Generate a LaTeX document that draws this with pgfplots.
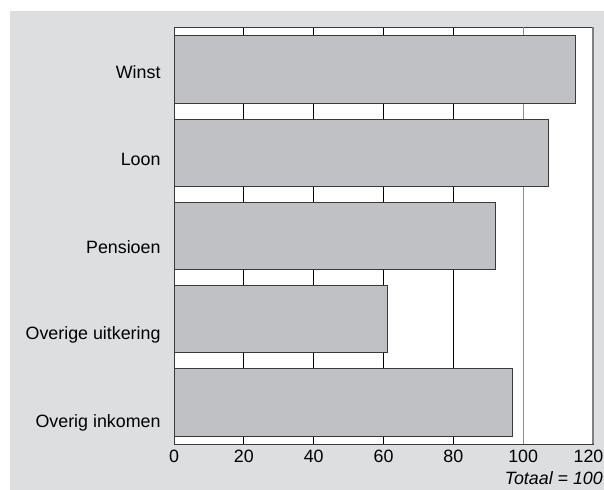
\documentclass[border=0pt]{standalone}
\usepackage{fontspec}
\setmainfont{Liberation Sans}
\usepackage{pgfplots}
\pgfplotsset{compat=1.18}
\definecolor{panel}{HTML}{DDDEE0}
\definecolor{barfill}{HTML}{C0C1C4}
\definecolor{baredge}{HTML}{3A3A3A}

\begin{document}
\begin{tikzpicture}
\path[use as bounding box] (0,0) rectangle (604bp,490bp);
\fill[panel] (10bp,0) rectangle (604bp,479bp);
\begin{axis}[
    at={(174bp,46bp)}, anchor=south west,
    scale only axis,
    width=419bp, height=417bp,
    xmin=0, xmax=120,
    ymin=-0.51, ymax=4.5,
    y dir=reverse,
    xtick={0,20,40,60,80,120},
    xticklabels={0,20,40,60,80,\hspace*{-9bp}120},
    extra x ticks={100},
    extra x tick style={grid style={draw=gray!90, line width=1bp}},
    ytick={0.03,1.08,2.14,3.19,4.25},
    yticklabels={Winst,Loon,Pensioen,Overige uitkering,Overig inkomen},
    major tick length=0pt,
    xmajorgrids=true,
    grid style={draw=black, line width=0.8bp},
    axis line style={draw=baredge, line width=0.8bp},
    axis background/.style={fill=white},
    font=\fontsize{17.9}{20}\selectfont,
    /pgf/number format/assume math mode=true,
    xticklabel style={yshift=-3bp},
    yticklabel style={xshift=-10bp},
]
\addplot[xbar, bar width=0.808, fill=barfill, draw=baredge, line width=0.8bp]
    coordinates {(115,0) (107.2,1) (92,2) (61.2,3) (96.9,4)};
\end{axis}
\draw[draw=gray, line width=1.5bp] (593bp,46bp) -- (593bp,463bp);
\node[anchor=base east, inner sep=0pt, font=\fontsize{17.9}{20}\selectfont\itshape]
    at (603bp,6bp) {Totaal = 100};
\end{tikzpicture}
\end{document}
